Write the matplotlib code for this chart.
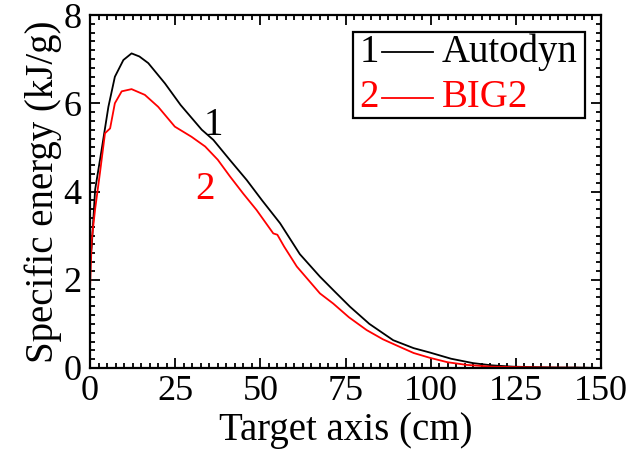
import numpy as np
import matplotlib
matplotlib.use('Agg')
import matplotlib.pyplot as plt
from matplotlib.patches import Rectangle
from matplotlib.lines import Line2D
from matplotlib.ticker import MultipleLocator

plt.rcParams['font.family'] = ['Liberation Serif', 'DejaVu Serif']

# Specific energy along target axis
x_autodyn = [0, 0.5, 1.5, 3.4, 5.4, 7.3, 9.8, 12.2, 14.5, 17.1, 22.0, 26.6, 32.8,
             36.2, 41.0, 46.0, 50.5, 55.8, 61.6, 67.5, 72.0, 76.3, 82.0,
             89.0, 95.0, 99.8, 106.0, 112.5, 118.0, 124.2, 130.0, 137.0, 143.0, 150.0]
y_autodyn = [2.4, 2.75, 4.04, 4.94, 5.92, 6.6, 6.98, 7.13, 7.06, 6.91, 6.45, 5.96, 5.4,
             5.17, 4.72, 4.26, 3.8, 3.28, 2.58, 2.07, 1.72, 1.39, 1.0,
             0.63, 0.45, 0.35, 0.21, 0.11, 0.06, 0.03, 0.02, 0.01, 0.01, 0.0]
x_big2 = [0, 0.5, 1.5, 2.9, 4.4, 5.9, 7.3, 9.3, 12.2, 16.1, 20.0, 24.9, 29.8, 33.8,
          37.5, 41.1, 45.0, 48.9, 53.8, 55.0, 57.0, 60.7, 67.5, 71.4, 76.0,
          81.2, 86.0, 90.9, 95.0, 99.8, 105.0, 110.6, 118.0, 125.0, 135.0, 150.0]
y_big2 = [1.77, 2.9, 3.6, 4.41, 5.32, 5.43, 6.0, 6.27, 6.32, 6.19, 5.92, 5.47, 5.24, 5.02,
          4.72, 4.34, 3.95, 3.58, 3.05, 3.02, 2.75, 2.3, 1.69, 1.46, 1.15,
          0.86, 0.65, 0.48, 0.34, 0.23, 0.13, 0.07, 0.03, 0.02, 0.01, 0.0]

fig = plt.figure(figsize=(6.27, 4.53), dpi=100)
ax = fig.add_axes([90 / 627, 1 - 368 / 453, 511 / 627, 353 / 453])

ax.plot(x_autodyn, y_autodyn, color='black', lw=1.3)
ax.plot(x_big2, y_big2, color='red', lw=1.3)

ax.set_xlim(0, 150)
ax.set_ylim(0, 8)
ax.xaxis.set_major_locator(MultipleLocator(25))
ax.xaxis.set_minor_locator(MultipleLocator(2.5))
ax.yaxis.set_major_locator(MultipleLocator(2))
ax.yaxis.set_minor_locator(MultipleLocator(0.2))
ax.tick_params(which='both', direction='in', top=True, right=True, width=1.3,
               labelsize=26)
ax.tick_params(axis='x', pad=5)
ax.tick_params(axis='y', pad=6)
ax.tick_params(which='major', length=7)
ax.tick_params(which='minor', length=3.6)
for s in ax.spines.values():
    s.set_linewidth(1.6)

ax.set_xlabel('Target axis (cm)', fontsize=28, labelpad=3)
ax.set_ylabel('Specific energy (kJ/g)', fontsize=28, labelpad=1)

# curve labels
ax.text(36.1, 5.5, '1', color='black', fontsize=28, ha='center', va='center')
ax.text(33.8, 4.05, '2', color='red', fontsize=28, ha='center', va='center')

# legend box drawn by hand to get the "1 —— Autodyn" layout
ax.add_patch(Rectangle((0.515, 0.708), 0.454, 0.244, transform=ax.transAxes,
                       fill=False, lw=1.6, ec='black', zorder=5))
for row_y, num, name, col in [(0.895, '1', 'Autodyn', 'black'),
                              (0.765, '2', 'BIG2', 'red')]:
    ax.text(0.546, row_y, num, color=col, fontsize=28, ha='center', va='center',
            transform=ax.transAxes)
    ax.add_line(Line2D([0.571, 0.671], [row_y, row_y], color=col, lw=1.3,
                       transform=ax.transAxes))
    ax.text(0.688, row_y, name, color=col, fontsize=28, ha='left', va='center',
            transform=ax.transAxes)

fig.savefig('out.png', dpi=100)
